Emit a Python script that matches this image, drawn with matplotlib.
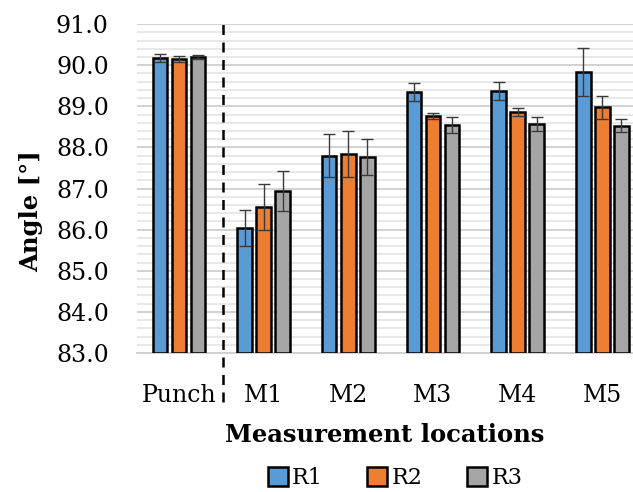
"""Bar chart of measured angle per location for three repetitions (R1-R3)."""

import matplotlib

matplotlib.use("Agg")
import matplotlib.pyplot as plt
import numpy as np

locations = ["Punch", "M1", "M2", "M3", "M4", "M5"]
series_names = ["R1", "R2", "R3"]
r1_mean = [90.17, 86.04, 87.80, 89.34, 89.37, 89.84]
r1_err = [0.10, 0.43, 0.52, 0.22, 0.22, 0.59]
r2_mean = [90.16, 86.55, 87.85, 88.77, 88.87, 88.98]
r2_err = [0.07, 0.55, 0.56, 0.08, 0.10, 0.28]
r3_mean = [90.20, 86.94, 87.77, 88.54, 88.57, 88.53]
r3_err = [0.06, 0.48, 0.43, 0.19, 0.16, 0.16]

colors = ["#5B9BD5", "#ED7D31", "#A5A5A5"]

plt.rcParams["font.family"] = ["DejaVu Serif"]

fig = plt.figure(figsize=(6.33, 4.92), dpi=100)
ax = fig.add_axes([0.2157, 0.2825, 0.7843, 0.6685])

x = np.arange(len(locations))
width = 0.172
step = 0.225
for i, (means, errs) in enumerate(
    [(r1_mean, r1_err), (r2_mean, r2_err), (r3_mean, r3_err)]
):
    ax.bar(
        x + (i - 1) * step, np.array(means) - 83.0, width, bottom=83.0,
        color=colors[i], edgecolor="black", linewidth=1.8,
        label=series_names[i], zorder=3,
    )
    ax.errorbar(
        x + (i - 1) * step, means, yerr=errs, fmt="none",
        ecolor="#3a3a3a", elinewidth=1.0, capsize=4, capthick=1.0, zorder=4,
    )

ax.set_ylim(83, 91)
ax.set_xlim(-0.5, -0.5 + (633 - 136.5) / 84.7)
ax.set_yticks(np.arange(83, 91.01, 1.0))
ax.set_yticklabels([f"{v:.1f}" for v in np.arange(83, 91.01, 1.0)])
ax.set_yticks(np.arange(83, 91.01, 0.2), minor=True)
ax.set_xticks(x)
ax.set_xticklabels(locations)
ax.tick_params(axis="both", which="both", length=0, labelsize=17)
ax.tick_params(axis="y", pad=20)
ax.tick_params(axis="x", pad=22)

ax.grid(axis="y", which="major", color="#cfcfcf", linewidth=1.3, zorder=0)
ax.grid(axis="y", which="minor", color="#e6e6e6", linewidth=1.3, zorder=0)
for s in ["top", "right", "left"]:
    ax.spines[s].set_visible(False)
ax.spines["bottom"].set_color("#cfcfcf")
ax.spines["bottom"].set_linewidth(1.3)

# separator between the punch reference and the measurement locations
ax.axvline(0.52, ymin=-0.149, ymax=1.012, color="black", linestyle=(0, (4, 3)),
           linewidth=1.8, clip_on=False, zorder=5)

ax.set_ylabel("Angle [°]", fontsize=17.5, fontweight="bold")
ax.yaxis.set_label_coords(-0.188, 0.43)
ax.set_xlabel("Measurement locations", fontsize=17.5, fontweight="bold", labelpad=12)

fig.legend(
    loc="center", bbox_to_anchor=(395 / 633, 1 - 478 / 492), ncol=3,
    frameon=False, fontsize=16, handlelength=0.9, handleheight=0.9,
    handletextpad=0.2, columnspacing=2.0,
)

fig.savefig("out.png", dpi=100)
